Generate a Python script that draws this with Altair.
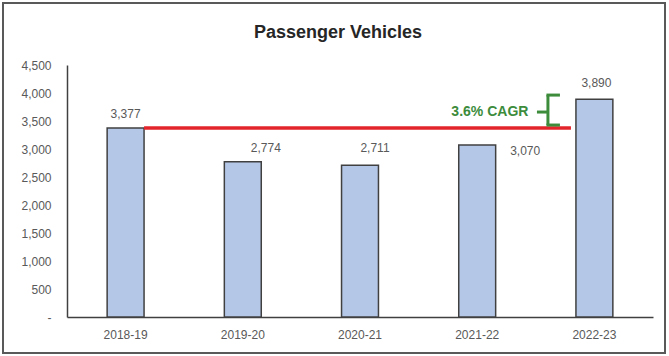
import altair as alt
import pandas as pd

years = ["2018-19", "2019-20", "2020-21", "2021-22", "2022-23"]
values = [3377, 2774, 2711, 3070, 3890]
label_text = ["3,377", "2,774", "2,711", "3,070", "3,890"]
y_ticks = [0, 500, 1000, 1500, 2000, 2500, 3000, 3500, 4000, 4500]
# manual label offsets (pixels) as placed in the original
label_dx = [0, 23, 15, 48, 2]
label_dy = [-14, -14, -17, 6, -16]

cagr_text = "3.6% CAGR"
base_value = values[0]
end_value = values[-1]
brace_top = 3963
brace_bottom = 3428
brace_mid = 3660

df = pd.DataFrame({"year": years, "value": values, "label": label_text})

W, H = 586, 252
xscale = alt.Scale(domain=years, paddingInner=0.685, paddingOuter=0.3425)
yscale = alt.Scale(domain=[0, 4500], nice=False)
FONT = "Liberation Sans"
GRAY = "#595959"
GREEN = "#3C8C3C"

xaxis = alt.Axis(labelAngle=0, labelFont=FONT, labelFontSize=12, labelColor=GRAY,
                 ticks=False, domainColor="#404040", domainWidth=1.5, labelPadding=12, title=None)
yaxis = alt.Axis(values=y_ticks, tickCount=10, grid=False, ticks=False,
                 labelFont=FONT, labelFontSize=12, labelColor=GRAY, labelOverlap=False,
                 domainColor="#404040", domainWidth=1.5, labelPadding=16, title=None,
                 labelExpr="datum.value == 0 ? '-' : format(datum.value, ',')")

base = alt.Chart(df)

bars = base.mark_bar(color="#B4C7E7", stroke="#404040", strokeWidth=1.5).encode(
    x=alt.X("year:N", scale=xscale, sort=years, axis=xaxis),
    y=alt.Y("value:Q", scale=yscale, axis=yaxis),
)

labels = []
for i, yr in enumerate(years):
    labels.append(
        base.transform_filter(alt.datum.year == yr).mark_text(
            font=FONT, fontSize=12, color=GRAY, dx=label_dx[i], dy=label_dy[i], baseline="middle"
        ).encode(x=alt.X("year:N", scale=xscale, sort=years, axis=xaxis),
                 y=alt.Y("value:Q", scale=yscale, axis=yaxis), text="label:N")
    )

ann = alt.Chart(pd.DataFrame({
    "x1": [years[0]], "x2": [years[-1]], "yb": [base_value], "ye": [end_value],
    "bt": [brace_top], "bb": [brace_bottom], "bm": [brace_mid], "t": [cagr_text]
}))

red = ann.mark_rule(color="#E3242B", strokeWidth=3.5, x2Offset=-5).encode(
    x=alt.X("x1:N", scale=xscale, bandPosition=1, axis=xaxis),
    x2=alt.X2("x2:N", bandPosition=0),
    y=alt.Y("yb:Q", scale=yscale, axis=yaxis),
)

brace_v = ann.mark_rule(color=GREEN, strokeWidth=3, xOffset=-28).encode(
    x=alt.X("x2:N", scale=xscale, bandPosition=0, axis=xaxis),
    y=alt.Y("bt:Q", scale=yscale, axis=yaxis), y2="bb:Q",
)
brace_top_h = ann.mark_rule(color=GREEN, strokeWidth=3, xOffset=-29.5, x2Offset=-16).encode(
    x=alt.X("x2:N", scale=xscale, bandPosition=0, axis=xaxis),
    x2=alt.X2("x2:N", bandPosition=0),
    y=alt.Y("bt:Q", scale=yscale, axis=yaxis),
)
brace_bot_h = ann.mark_rule(color=GREEN, strokeWidth=3, xOffset=-29.5, x2Offset=-16).encode(
    x=alt.X("x2:N", scale=xscale, bandPosition=0, axis=xaxis),
    x2=alt.X2("x2:N", bandPosition=0),
    y=alt.Y("bb:Q", scale=yscale, axis=yaxis),
)
brace_nub = ann.mark_rule(color=GREEN, strokeWidth=3, xOffset=-39, x2Offset=-28).encode(
    x=alt.X("x2:N", scale=xscale, bandPosition=0, axis=xaxis),
    x2=alt.X2("x2:N", bandPosition=0),
    y=alt.Y("bm:Q", scale=yscale, axis=yaxis),
)
cagr = ann.mark_text(font=FONT, fontSize=14, fontWeight="bold", color=GREEN, align="right",
                     baseline="middle", dx=-66).encode(
    x=alt.X("x2:N", scale=xscale, axis=xaxis), y=alt.Y("bm:Q", scale=yscale, axis=yaxis), text="t:N"
)

frame = alt.Chart(alt.Data(values=[{"a": 1}])).mark_rect(
    fill=None, stroke="#595959", strokeWidth=2
).encode(x=alt.value(-64), x2=alt.value(598), y=alt.value(-62), y2=alt.value(288))

chart = alt.layer(bars, *labels, red, brace_v, brace_top_h, brace_bot_h, brace_nub, cagr, frame).properties(
    width=W, height=H,
    title=alt.TitleParams("Passenger Vehicles", font=FONT, fontSize=18, fontWeight="bold",
                          color="#262626", anchor="middle", dx=-22, offset=-40),
    padding={"left": 67, "top": 65, "right": 16, "bottom": 39},
    autosize=alt.AutoSizeParams(type="none"),
    background="white",
).configure_view(stroke=None)

chart.save("out.html", embed_options={"renderer": "svg", "actions": False})
